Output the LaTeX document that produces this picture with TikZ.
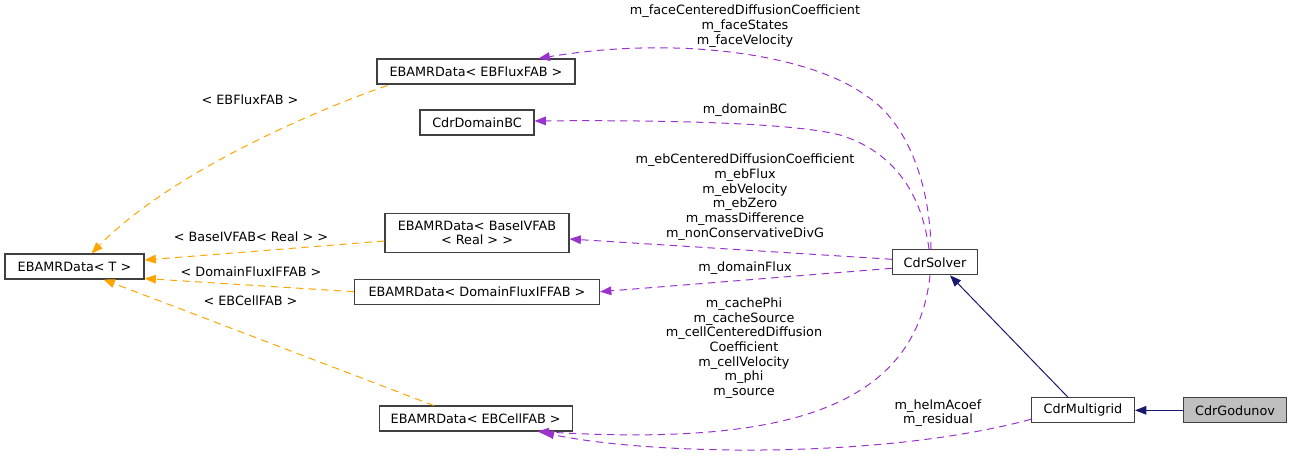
\documentclass[tikz,border=0pt]{standalone}
\usepackage{fontspec}
\setmainfont{DejaVu Sans}
\usetikzlibrary{arrows.meta,calc}
\definecolor{dxorange}{HTML}{FFA500}
\definecolor{dxpurple}{HTML}{9A32CD}
\definecolor{dxnavy}{HTML}{191970}
\definecolor{dxborder}{HTML}{404040}
\definecolor{dxgray}{HTML}{BFBFBF}
\begin{document}
\begin{tikzpicture}[x=0.75pt,y=-0.75pt,
  font=\fontsize{9.6}{11}\selectfont,
  box/.style={draw=dxborder, line width=0.8pt, inner sep=0pt, minimum height=25*0.75pt, align=center, fill=white},
  lbl/.style={inner sep=0pt, align=center},
  tip/.style={-{Triangle[length=8.5pt,width=6.5pt]}},
  tmpl/.style={tip, draw=dxorange, line width=0.75pt, dash pattern=on 5.5pt off 4pt},
  memb/.style={tip, draw=dxpurple, line width=0.75pt, dash pattern=on 5.5pt off 4pt},
  inh/.style={tip, draw=dxnavy, line width=0.75pt}
]
\useasboundingbox (0,0) rectangle (1292,456);

% nodes
\node[box, minimum width=139*0.75pt] (T) at (74.5,266.5) {EBAMRData< T >};
\node[box, minimum width=198*0.75pt] (flux) at (476,71.5) {EBAMRData< EBFluxFAB >};
\node[box, minimum width=114*0.75pt] (dbc) at (477,122.5) {CdrDomainBC};
\node[box, minimum width=184*0.75pt, minimum height=39.5*0.75pt] (base) at (477,233) {EBAMRData< BaseIVFAB\\< Real > >};
\node[box, minimum width=245*0.75pt] (dom) at (477,291.7) {EBAMRData< DomainFluxIFFAB >};
\node[box, minimum width=193*0.75pt] (cell) at (475.7,418.5) {EBAMRData< EBCellFAB >};
\node[box, minimum width=85*0.75pt] (solver) at (935,262.3) {CdrSolver};
\node[box, minimum width=103*0.75pt] (mg) at (1083,410.3) {CdrMultigrid};
\node[box, minimum width=103.5*0.75pt, fill=dxgray] (god) at (1235,410.3) {CdrGodunov};

% template instantiation edges (orange)
\draw[tmpl] ($(flux.south west)+(11,1)$) .. controls (330,105) and (175,168) .. ($(T.north)+(17,0)$);
\draw[tmpl] ($(base.west)+(0,8)$) -- ($(T.east)+(0,-6.5)$);
\draw[tmpl] (dom.west) -- ($(T.south east)+(0,-1)$);
\draw[tmpl] ($(cell.north west)+(55,0)$) -- ($(T.south)+(29,0)$);

\node[lbl] (l1) at (250,100) {< EBFluxFAB >};
\node[lbl] (l2) at (251,236.5) {< BaseIVFAB< Real > >};
\node[lbl] (l3) at (251,272) {< DomainFluxIFFAB >};
\node[lbl] (l4) at (250.5,300.5) {< EBCellFAB >};

% member edges (purple)
\draw[memb] ($(solver.north)+(-4,0)$) .. controls (930,185) and (908,122) .. (865,95)
   .. controls (810,55) and (680,35) .. ($(flux.north east)+(-37,0)$);
\draw[memb] ($(solver.north)+(-6,0)$) .. controls (922,195) and (895,152) .. (840,135)
   .. controls (790,122) and (650,120) .. ($(dbc.east)+(0,-1.5)$);
\draw[memb] ($(solver.west)+(0,-3)$) -- ($(base.east)+(0,6)$);
\draw[memb] ($(solver.west)+(0,6)$) -- (dom.east);
\draw[memb] ($(solver.south)+(-5,0)$) .. controls (915,415) and (770,445) .. ($(cell.south)+(62,0)$);
\draw[memb] ($(mg.west)+(0,9)$) .. controls (880,460) and (650,455) .. ($(cell.south)+(67,1)$);

\node[lbl] (m1) at (745,26) {m\_faceCenteredDiffusionCoefficient\\m\_faceStates\\m\_faceVelocity};
\node[lbl] (m2) at (745,110) {m\_domainBC};
\node[lbl] (m3) at (745,197) {m\_ebCenteredDiffusionCoefficient\\m\_ebFlux\\m\_ebVelocity\\m\_ebZero\\m\_massDifference\\m\_nonConservativeDivG};
\node[lbl] (m4) at (745,268) {m\_domainFlux};
\node[lbl] (m5) at (744,348) {m\_cachePhi\\m\_cacheSource\\m\_cellCenteredDiffusion\\Coefficient\\m\_cellVelocity\\m\_phi\\m\_source};
\node[lbl] (m6) at (938,413) {m\_helmAcoef\\m\_residual};

% inheritance edges (navy)
\draw[inh] ($(mg.north)+(-15,0)$) -- ($(solver.south)+(15,0)$);
\draw[inh] (god.west) -- (mg.east);
\end{tikzpicture}
\end{document}
